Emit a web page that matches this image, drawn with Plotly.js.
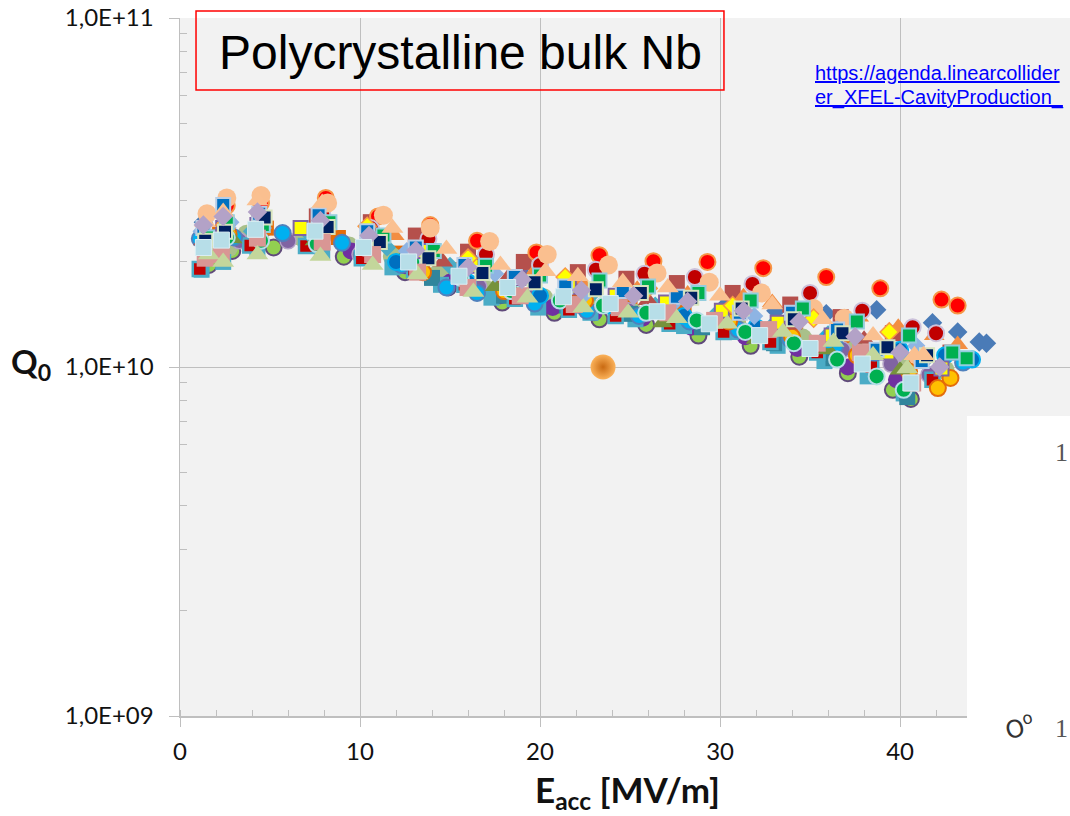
<!DOCTYPE html>
<html>
<head>
<meta charset="utf-8">
<script src="https://cdn.plot.ly/plotly-3.0.1.min.js"></script>
<style>
  html, body { margin: 0; padding: 0; background: #ffffff; overflow: hidden; }
  #chart { width: 1070px; height: 816px; }
  .annotation[data-index="2"] text, .annotation[data-index="3"] text { text-decoration: underline; }
</style>
</head>
<body>
<div id="chart"></div>
<script>
// Eacc in MV/m, Q0 in units of 1e10
const s1E = [1.3, 2.6, 4.5, 7.7, 10.5, 13.5, 16.3, 19.0, 22.0, 24.8, 27.5, 30.3, 33.1, 35.9, 38.7, 41.8, 43.2, 44.4, 44.8];
const s1Q = [2.6, 2.5, 2.4, 2.5, 2.3, 2.15, 2.0, 1.85, 1.72, 1.62, 1.55, 1.5, 1.45, 1.42, 1.46, 1.34, 1.26, 1.18, 1.17];
const s2E = [1.4, 2.5, 4.4, 7.6, 10.6, 13.1, 16.0, 19.1, 22.1, 24.8, 27.6, 30.7, 33.9, 36.7, 39.6, 42.8];
const s2Q = [2.25, 2.6, 2.65, 2.7, 2.6, 2.38, 2.14, 2.0, 1.87, 1.79, 1.74, 1.63, 1.51, 1.39, 1.25, 1.1];
const s4E = [1.6, 2.9, 5.2, 9.1, 12.5, 14.9, 17.9, 20.8, 23.3, 25.9, 28.8, 31.7, 34.4, 37.1, 39.6, 40.6];
const s4Q = [1.96, 2.15, 2.2, 2.07, 1.87, 1.69, 1.53, 1.43, 1.37, 1.32, 1.23, 1.15, 1.07, 0.96, 0.86, 0.81];
const s5E = [1.5, 2.6, 4.5, 7.6, 10.2, 12.9, 15.6, 18.4, 21.1, 23.5, 25.9, 28.7, 31.4, 34.1, 36.5, 38.7, 40.2];
const s5Q = [2.25, 2.35, 2.3, 2.25, 2.2, 2.0, 1.8, 1.65, 1.55, 1.5, 1.43, 1.36, 1.26, 1.17, 1.05, 0.94, 0.86];
const s6E = [2.6, 4.5, 8.1, 11.0, 13.9, 16.5, 19.8, 23.3, 26.3, 29.3, 32.4, 35.9, 38.9, 42.3, 43.2];
const s6Q = [2.9, 2.95, 3.05, 2.7, 2.55, 2.3, 2.13, 2.09, 2.01, 2.0, 1.92, 1.81, 1.68, 1.56, 1.50];
const s7E = [1.5, 2.6, 4.6, 7.9, 10.6, 13.8, 17.0, 20.0, 23.1, 25.8, 28.6, 31.8, 35.0, 37.9, 40.7, 42.0];
const s7Q = [2.3, 2.5, 2.6, 2.75, 2.5, 2.33, 2.1, 1.96, 1.90, 1.85, 1.81, 1.73, 1.63, 1.45, 1.30, 1.25];
const s8E = [1.5, 2.6, 4.5, 8.2, 11.3, 13.9, 17.2, 20.4, 23.8, 26.5, 29.4, 32.3, 35.2, 36.9, 41.0];
const s8Q = [2.75, 3.05, 3.1, 2.95, 2.72, 2.5, 2.29, 2.10, 1.96, 1.86, 1.75, 1.63, 1.47, 1.38, 1.07];
const s9E = [1.4, 2.5, 4.7, 8.2, 11.1, 13.8, 16.8, 19.7, 23.1, 25.6, 28.4, 31.2, 34.1, 36.8, 39.3, 41.5];
const s9Q = [2.3, 2.44, 2.68, 2.52, 2.28, 2.05, 1.86, 1.75, 1.67, 1.63, 1.58, 1.47, 1.37, 1.25, 1.14, 1.08];
const s10E = [1.6, 2.4, 4.3, 6.7, 10.5, 13.6, 16.2, 18.8, 21.6, 24.2, 27.0, 30.1, 33.2, 36.2, 39.3, 42.3];
const s10Q = [2.35, 2.5, 2.55, 2.5, 2.33, 2.15, 1.95, 1.8, 1.7, 1.6, 1.53, 1.45, 1.34, 1.23, 1.1, 0.99];
const s11E = [1.5, 2.6, 4.6, 8.3, 11.3, 14.1, 17.0, 20.0, 23.3, 26.0, 28.8, 31.7, 34.6, 37.6, 40.5, 42.9, 43.7];
const s11Q = [2.35, 2.6, 2.55, 2.6, 2.38, 2.15, 1.95, 1.83, 1.77, 1.7, 1.63, 1.55, 1.47, 1.35, 1.23, 1.1, 1.06];
const s12E = [1.3, 2.3, 4.2, 7.5, 10.2, 12.7, 15.5, 18.2, 21.3, 23.9, 26.5, 29.4, 32.2, 35.0, 37.9, 40.6];
const s12Q = [2.2, 2.31, 2.48, 2.45, 2.2, 2.0, 1.82, 1.69, 1.59, 1.52, 1.44, 1.33, 1.23, 1.13, 1.02, 0.9];
const s13E = [1.4, 2.3, 4.3, 7.9, 10.7, 13.2, 16.0, 18.9, 21.9, 24.4, 27.1, 29.7, 32.7, 35.4, 37.8, 40.7];
const s13Q = [2.05, 2.1, 2.34, 2.28, 2.1, 1.87, 1.69, 1.6, 1.51, 1.48, 1.43, 1.36, 1.28, 1.17, 1.1, 0.9];
const s14E = [1.2, 2.4, 4.3, 7.9, 11.8, 14.5, 17.3, 19.9, 22.8, 25.3, 28.0, 30.6, 33.2, 35.8, 38.2, 40.2];
const s14Q = [1.9, 2.0, 2.16, 2.14, 1.93, 1.72, 1.58, 1.48, 1.43, 1.37, 1.31, 1.26, 1.15, 1.04, 0.94, 0.84];
const s15E = [1.3, 2.4, 4.4, 7.7, 10.4, 13.1, 15.8, 18.6, 21.4, 24.6, 27.6, 31.1, 34.0, 36.5, 38.7, 41.2];
const s15Q = [2.5, 2.91, 2.75, 2.72, 2.45, 2.2, 1.96, 1.81, 1.7, 1.65, 1.59, 1.43, 1.43, 1.28, 1.12, 1.04];
const s16E = [1.5, 2.6, 4.4, 8.0, 11.9, 14.3, 16.8, 19.6, 22.3, 25.4, 28.2, 31.3, 32.9, 35.3, 37.7, 39.9, 41.9, 43.2];
const s16Q = [2.4, 2.7, 2.55, 2.6, 2.38, 2.1, 1.96, 1.85, 1.75, 1.67, 1.62, 1.59, 1.53, 1.45, 1.39, 1.3, 1.23, 1.16];
const s17E = [1.4, 2.4, 4.3, 7.9, 11.8, 14.8, 17.8, 20.3, 22.1, 24.6, 27.1, 30.0, 32.9, 35.7, 38.5, 40.8, 41.3];
const s17Q = [2.6, 2.78, 3.0, 2.95, 2.5, 2.18, 1.96, 1.88, 1.82, 1.75, 1.69, 1.6, 1.51, 1.37, 1.23, 1.08, 1.08];
const s18E = [1.6, 2.4, 4.3, 7.8, 10.7, 13.2, 16.3, 19.3, 22.4, 24.9, 27.6, 30.4, 33.5, 36.3, 38.5, 40.4];
const s18Q = [2.1, 2.0, 2.1, 2.08, 1.96, 1.84, 1.64, 1.58, 1.48, 1.43, 1.38, 1.33, 1.26, 1.18, 1.08, 0.99];
const s19E = [1.3, 2.4, 4.3, 7.8, 10.5, 13.1, 16.0, 19.0, 22.3, 25.2, 28.2, 31.3, 34.4, 37.5, 40.0, 42.2];
const s19Q = [2.55, 2.7, 2.78, 2.63, 2.38, 2.16, 1.93, 1.78, 1.66, 1.6, 1.54, 1.45, 1.35, 1.22, 1.1, 1.0];
const s20E = [1.1, 3.0, 5.7, 9.0, 12.3, 14.8, 16.5, 19.7, 22.6, 25.5, 28.3, 31.0, 33.9, 36.4, 38.6, 41.3, 43.5];
const s20Q = [2.33, 2.35, 2.42, 2.27, 1.96, 1.69, 1.63, 1.52, 1.45, 1.4, 1.35, 1.28, 1.2, 1.15, 1.1, 1.06, 1.03];
const s21E = [1.5, 2.7, 3.7, 6.8, 9.4, 11.8, 14.4, 17.1, 20.2, 22.7, 25.2, 27.9, 31.0, 34.6, 37.5, 40.0, 42.5];
const s21Q = [2.3, 2.2, 2.4, 2.35, 2.22, 2.07, 1.87, 1.66, 1.58, 1.5, 1.43, 1.38, 1.3, 1.21, 1.12, 1.05, 0.98];
const s22E = [2.7, 7.9, 13.5, 18.0, 22.5, 26.8, 30.5, 34.0, 37.6, 40.5, 42.1, 42.8];
const s22Q = [2.4, 2.35, 1.87, 1.65, 1.55, 1.45, 1.35, 1.22, 1.08, 0.97, 0.87, 0.93];
const s23E = [2.5, 10.4, 16.0, 21.4, 26.0, 30.7, 35.2, 39.4];
const s23Q = [2.55, 2.53, 2.05, 1.81, 1.68, 1.5, 1.38, 1.26];
const s24E = [1.1, 3.9, 7.0, 10.1, 13.0, 15.8, 18.6, 21.6, 24.2, 27.2, 30.2, 32.8, 35.4, 38.4, 41.8];
const s24Q = [1.91, 2.23, 2.22, 2.05, 1.9, 1.72, 1.57, 1.46, 1.4, 1.33, 1.26, 1.18, 1.1, 1.0, 0.92];
const s25E = [2.9, 7.5, 12.2, 17.5, 22.0, 26.8, 32.0, 36.0, 40.0];
const s25Q = [2.33, 2.3, 2.0, 1.7, 1.5, 1.34, 1.2, 1.12, 0.98];
const s26E = [9.5, 12.5, 15.0, 17.8, 20.7, 23.0, 25.7, 28.4, 31.4, 34.3, 37.1, 39.8];
const s26Q = [2.15, 1.95, 1.75, 1.6, 1.48, 1.43, 1.38, 1.3, 1.22, 1.13, 1.0, 0.92];
const s27E = [14.0, 18.0, 21.5, 25.0, 29.0, 33.0, 36.3, 40.4];
const s27Q = [1.8, 1.6, 1.5, 1.42, 1.3, 1.17, 1.06, 0.82];
const s28E = [1.3, 2.5, 4.4, 7.6, 11.0, 14.6, 18.2, 22.0, 26.0, 30.0, 34.0, 38.0];
const s28Q = [2.3, 2.45, 2.55, 2.45, 2.25, 2.0, 1.8, 1.65, 1.55, 1.42, 1.32, 1.2];
const s29E = [12.0, 16.0, 20.0, 24.0, 28.0, 32.0, 36.0, 40.0, 42.5, 44.0];
const s29Q = [2.0, 1.75, 1.6, 1.5, 1.4, 1.3, 1.2, 1.12, 1.08, 1.05];
const s30E = [1.2, 2.8, 4.6, 8.0, 12.6, 17.5, 22.5, 27.3, 31.9, 36.5, 40.9];
const s30Q = [2.45, 2.6, 2.5, 2.5, 2.15, 1.85, 1.62, 1.5, 1.4, 1.28, 1.15];
const s31E = [2.2, 4.8, 8.8, 12.0, 15.2, 18.5, 21.8, 25.0, 28.0, 31.0, 34.2, 37.3, 40.3];
const s31Q = [2.4, 2.5, 2.35, 2.12, 1.9, 1.74, 1.62, 1.54, 1.45, 1.36, 1.27, 1.16, 1.04];
const s32E = [1.8, 3.3, 6.0, 10.0, 13.4, 16.6, 19.5, 22.2, 24.9, 27.8, 30.8, 33.6, 36.8, 39.5, 41.6];
const s32Q = [2.2, 2.3, 2.3, 2.1, 1.9, 1.7, 1.58, 1.5, 1.45, 1.38, 1.3, 1.22, 1.12, 1.02, 0.95];
const s33E = [2.0, 4.0, 7.2, 11.5, 15.0, 18.8, 22.8, 26.4, 29.8, 33.0, 36.0, 39.0, 41.0];
const s33Q = [2.35, 2.45, 2.4, 2.2, 1.95, 1.76, 1.6, 1.5, 1.42, 1.33, 1.24, 1.13, 1.05];
const outlierE = [23.5];
const outlierQ = [1.0];

const yTickVals = [1e9, 1e10, 1e11];
const yTickText = ['1,0E+09', '1,0E+10', '1,0E+11'];

const minorY = [];
[1e9, 1e10].forEach(d => { for (let k = 2; k <= 9; k++) minorY.push(k * d); });

function tr(E, Q, symbol, size, color, lineColor, lineWidth) {
  return {
    type: 'scatter', mode: 'markers',
    x: E, y: Q.map(v => v * 1e10),
    marker: { symbol: symbol, size: size, color: color,
      line: { color: lineColor || color, width: lineWidth || 0 } },
    hoverinfo: 'skip', showlegend: false
  };
}

const data = [
  tr(s1E, s1Q, 'diamond', 15, '#4a7bb7'),
  tr(s2E, s2Q, 'square', 16, '#b5504c'),
  tr(s16E, s16Q, 'triangle-up', 18, '#f28e43'),
  tr(s31E, s31Q, 'square', 15, '#e46c0a'),
  tr(s4E, s4Q, 'circle', 16, '#92d050', '#604a7b', 2),
  tr(s21E, s21Q, 'circle', 19, '#a9c08a'),
  tr(s26E, s26Q, 'circle', 17, '#7030a0'),
  tr(s32E, s32Q, 'circle', 16, '#8064a2', '#b3a2c7', 1.5),
  tr(s14E, s14Q, 'square', 16, '#4bacc6'),
  tr(s27E, s27Q, 'square', 16, '#31859c'),
  tr(s24E, s24Q, 'square', 14, '#c00000', '#4bacc6', 2.5),
  tr(s20E, s20Q, 'circle', 16, '#00b0f0', '#4f81bd', 2),
  tr(s33E, s33Q, 'diamond', 14, '#4bacc6'),
  tr(s6E, s6Q, 'circle', 16, '#ff0000', '#f79646', 2),
  tr(s7E, s7Q, 'circle', 16, '#c00000', '#ccc1da', 2),
  tr(s8E, s8Q, 'circle', 19, '#fabf8f'),
  tr(s22E, s22Q, 'circle', 16, '#ffc000', '#e46c0a', 2),
  tr(s25E, s25Q, 'triangle-up', 18, '#76923c'),
  tr(s28E, s28Q, 'triangle-up', 18, '#b5504c'),
  tr(s29E, s29Q, 'circle', 16, '#0070c0', '#00b0f0', 2),
  tr(s30E, s30Q, 'diamond', 14, '#8eb4e3'),
  tr(s5E, s5Q, 'circle', 16, '#00b050', '#b7dee8', 2),
  tr(s10E, s10Q, 'square', 14, '#ffff00', '#8064a2', 2),
  tr(s23E, s23Q, 'diamond', 14, '#ffff00', '#f79646', 1.5),
  tr(s15E, s15Q, 'square', 14, '#0070c0', '#b9cde5', 2),
  tr(s11E, s11Q, 'square', 14, '#00b050', '#93cddd', 2),
  tr(s9E, s9Q, 'square', 14, '#002060', '#d7e4bd', 2),
  tr(s13E, s13Q, 'square', 17, '#d99694'),
  tr(s18E, s18Q, 'triangle-up', 19, '#c3d69b'),
  tr(s17E, s17Q, 'triangle-up', 19, '#fac090'),
  tr(s19E, s19Q, 'diamond', 15, '#b3a2c7'),
  tr(s12E, s12Q, 'square', 16, '#b7dee8', '#dbeef4', 1),
  {
    type: 'scatter', mode: 'markers', x: outlierE, y: outlierQ.map(v => v * 1e10),
    marker: { symbol: 'circle', size: 25, color: '#fbb25a',
      gradient: { type: 'radial', color: '#c96a12' }, line: { width: 0 } },
    hoverinfo: 'skip', showlegend: false
  }
];

const tickFont = { family: 'Lato, "Open Sans", sans-serif', size: 24, color: '#111111' };
const axisCol = '#bfbfbf';

const layout = {
  width: 1070, height: 816,
  margin: { l: 180, r: 0, t: 18, b: 100, pad: 0 },
  paper_bgcolor: '#ffffff', plot_bgcolor: '#f2f2f2',
  showlegend: false, hovermode: false,
  xaxis: {
    range: [0, 49.44], tick0: 0, dtick: 10,
    ticks: 'outside', ticklen: 9, tickwidth: 1, tickcolor: axisCol,
    showgrid: true, gridcolor: axisCol, gridwidth: 1,
    showline: true, linecolor: axisCol, linewidth: 1.5,
    zeroline: false, tickfont: tickFont, ticklabelstandoff: 5,
    minor: { dtick: 2, tick0: 0, ticks: 'inside', ticklen: 6, tickwidth: 1, tickcolor: axisCol, showgrid: false },
    fixedrange: true
  },
  yaxis: {
    type: 'log', range: [9, 11],
    tickmode: 'array', tickvals: yTickVals, ticktext: yTickText,
    ticks: 'outside', ticklen: 10, tickwidth: 1, tickcolor: axisCol,
    showgrid: true, gridcolor: axisCol, gridwidth: 1,
    showline: true, linecolor: axisCol, linewidth: 1.5,
    zeroline: false, tickfont: tickFont, ticklabelstandoff: 10,
    minor: { tickmode: 'array', tickvals: minorY, ticks: 'inside', ticklen: 7, tickwidth: 1, tickcolor: axisCol, showgrid: false },
    fixedrange: true
  },
  shapes: [
    { type: 'rect', xref: 'paper', yref: 'paper', x0: 0.018, x1: 0.6112, y0: 0.8968, y1: 1.010,
      line: { color: '#ff0000', width: 1.5 }, fillcolor: 'rgba(0,0,0,0)', layer: 'above' },
    { type: 'rect', xref: 'paper', yref: 'paper', x0: 0.8843, x1: 1.01, y0: -0.2, y1: 0.4298,
      line: { width: 0 }, fillcolor: '#ffffff', layer: 'above' }
  ],
  annotations: [
    { xref: 'paper', yref: 'paper', x: 0.0416, y: 0.951, xanchor: 'left', yanchor: 'middle',
      text: 'Polycrystalline bulk Nb', showarrow: false,
      font: { family: '"Liberation Sans", Arial, sans-serif', size: 48, color: '#000000' } },
    { xref: 'paper', yref: 'paper', x: 0.503, y: -0.108, xanchor: 'center', yanchor: 'middle',
      text: 'E<sub>acc</sub> [MV/m]', showarrow: false,
      font: { family: 'Lato, "Open Sans", sans-serif', size: 35, color: '#111111', weight: 'bold' } },
    { xref: 'paper', yref: 'paper', x: 0.7112, y: 0.9212, xanchor: 'left', yanchor: 'middle',
      text: 'https://agenda.linearcollider', showarrow: false,
      font: { family: '"Liberation Sans", Arial, sans-serif', size: 20, color: '#0000ff' } },
    { xref: 'paper', yref: 'paper', x: 0.7112, y: 0.8854, xanchor: 'left', yanchor: 'middle',
      text: 'er_XFEL-CavityProduction_', showarrow: false,
      font: { family: '"Liberation Sans", Arial, sans-serif', size: 20, color: '#0000ff' } },
    { xref: 'paper', yref: 'paper', x: -0.1674, y: 0.5043, xanchor: 'center', yanchor: 'middle',
      text: 'Q<sub>0</sub>', showarrow: false,
      font: { family: 'Lato, "Open Sans", sans-serif', size: 33, color: '#111111', weight: 'bold' } },
    { xref: 'paper', yref: 'paper', x: 1.0, y: 0.3782, xanchor: 'right', yanchor: 'middle',
      text: '1', showarrow: false,
      font: { family: '"Liberation Serif", "DejaVu Serif", serif', size: 26, color: '#555555' } },
    { xref: 'paper', yref: 'paper', x: 1.0, y: -0.0172, xanchor: 'right', yanchor: 'middle',
      text: '1', showarrow: false,
      font: { family: '"Liberation Serif", "DejaVu Serif", serif', size: 26, color: '#555555' } },
    { xref: 'paper', yref: 'paper', x: 0.9438, y: -0.0143, xanchor: 'center', yanchor: 'middle',
      text: 'O<sup>o</sup>', showarrow: false, textangle: -15,
      font: { family: '"DejaVu Sans", sans-serif', size: 24, color: '#333333' } }
  ]
};

Plotly.newPlot('chart', data, layout, { staticPlot: true, displayModeBar: false });
</script>
</body>
</html>
